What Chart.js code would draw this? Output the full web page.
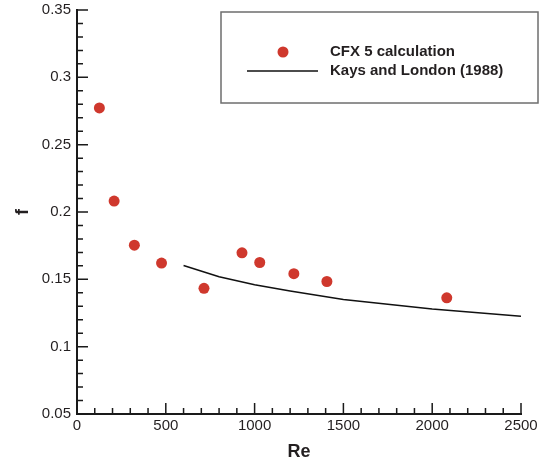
<!DOCTYPE html>
<html>
<head>
<meta charset="utf-8">
<script src="https://cdn.jsdelivr.net/npm/chart.js@4"></script>
<style>
  html, body { margin: 0; padding: 0; background: #fff; }
  canvas { display: block; }
</style>
</head>
<body>
<canvas id="chart" width="548" height="466"></canvas>
<script>
// CFX 5 calculation (scatter points)
const cfxRe = [126, 209, 323, 476, 715, 929, 1029, 1221, 1407, 2082];
const cfxF = [0.2773, 0.2081, 0.1754, 0.1621, 0.1433, 0.1697, 0.1625, 0.1542, 0.1484, 0.1363];

// Kays and London (1988) correlation (line)
const kaysRe = [600, 800, 1000, 1200, 1500, 2000, 2500];
const kaysF = [0.1603, 0.1519, 0.1460, 0.1413, 0.1351, 0.1280, 0.1225];

const xTicks = [0, 500, 1000, 1500, 2000, 2500];
const yTicks = [0.05, 0.1, 0.15, 0.2, 0.25, 0.3, 0.35];

const textColor = '#231f20';
const dotColor = '#cf382d';

// Inward major/minor ticks like the original plot
const inwardTicks = {
  id: 'inwardTicks',
  afterDatasetsDraw(chart) {
    const { ctx, chartArea, scales } = chart;
    ctx.save();
    ctx.strokeStyle = '#1a1a1a';
    ctx.lineWidth = 1.5;
    ctx.beginPath();
    for (let v = 0; v <= 2500; v += 100) {
      const px = scales.x.getPixelForValue(v);
      const len = v % 500 === 0 ? 11 : 6;
      ctx.moveTo(px, chartArea.bottom);
      ctx.lineTo(px, chartArea.bottom - len);
    }
    for (let i = 5; i <= 35; i++) {
      const py = scales.y.getPixelForValue(i / 100);
      const len = i % 5 === 0 ? 11 : 6;
      ctx.moveTo(chartArea.left, py);
      ctx.lineTo(chartArea.left + len, py);
    }
    ctx.stroke();
    ctx.restore();
  }
};

// Boxed legend inside the plot, top right
const boxLegend = {
  id: 'boxLegend',
  afterDraw(chart) {
    const { ctx } = chart;
    const ds = chart.data.datasets;
    ctx.save();
    ctx.fillStyle = '#fff';
    ctx.fillRect(221, 12, 317, 91);
    ctx.strokeStyle = '#6e6e6e';
    ctx.lineWidth = 1.5;
    ctx.strokeRect(221, 12, 317, 91);

    ctx.fillStyle = ds[0].backgroundColor;
    ctx.beginPath();
    ctx.arc(283, 52, 5.5, 0, Math.PI * 2);
    ctx.fill();

    ctx.strokeStyle = ds[1].borderColor;
    ctx.lineWidth = 1.5;
    ctx.beginPath();
    ctx.moveTo(247, 71);
    ctx.lineTo(318, 71);
    ctx.stroke();

    ctx.fillStyle = textColor;
    ctx.font = 'bold 15px "Liberation Sans", Arial, sans-serif';
    ctx.textBaseline = 'middle';
    ctx.fillText(ds[0].label, 330, 52);
    ctx.fillText(ds[1].label, 330, 71);
    ctx.restore();
  }
};

new Chart(document.getElementById('chart'), {
  type: 'scatter',
  data: {
    datasets: [
      {
        label: 'CFX 5 calculation',
        data: cfxRe.map((x, i) => ({ x: x, y: cfxF[i] })),
        backgroundColor: dotColor,
        borderWidth: 0,
        pointRadius: 5.5,
        pointHoverRadius: 5.5
      },
      {
        label: 'Kays and London (1988)',
        data: kaysRe.map((x, i) => ({ x: x, y: kaysF[i] })),
        showLine: true,
        borderColor: '#111',
        borderWidth: 1.5,
        pointRadius: 0,
        tension: 0
      }
    ]
  },
  options: {
    responsive: false,
    animation: false,
    layout: { padding: { top: 10, right: 27, left: 0, bottom: 0 } },
    plugins: {
      legend: { display: false },
      tooltip: { enabled: false }
    },
    scales: {
      x: {
        type: 'linear',
        min: 0,
        max: 2500,
        afterBuildTicks: s => { s.ticks = xTicks.map(v => ({ value: v })); },
        afterFit: s => { s.height = 52; s.paddingLeft = 0; s.paddingRight = 0; },
        grid: { display: false, drawTicks: false },
        border: { display: true, color: '#1a1a1a', width: 2 },
        ticks: {
          color: textColor,
          padding: 3,
          maxRotation: 0,
          callback: v => String(v),
          font: { family: '"Liberation Sans", Arial, sans-serif', size: 15 }
        },
        title: {
          display: true,
          text: 'Re',
          color: textColor,
          padding: { top: 0, bottom: 3 },
          font: { family: '"Liberation Sans", Arial, sans-serif', size: 18, weight: 'bold' }
        }
      },
      y: {
        type: 'linear',
        min: 0.05,
        max: 0.35,
        afterBuildTicks: s => { s.ticks = yTicks.map(v => ({ value: v })); },
        afterFit: s => { s.width = 77; s.paddingTop = 0; s.paddingBottom = 0; },
        grid: { display: false, drawTicks: false },
        border: { display: true, color: '#1a1a1a', width: 2 },
        ticks: {
          color: textColor,
          padding: 6,
          callback: v => String(+v.toFixed(2)),
          font: { family: '"Liberation Sans", Arial, sans-serif', size: 15 }
        },
        title: {
          display: true,
          text: 'f',
          color: textColor,
          padding: { top: 12, bottom: 0 },
          font: { family: '"Liberation Sans", Arial, sans-serif', size: 18, weight: 'bold' }
        }
      }
    }
  },
  plugins: [inwardTicks, boxLegend]
});
</script>
</body>
</html>
